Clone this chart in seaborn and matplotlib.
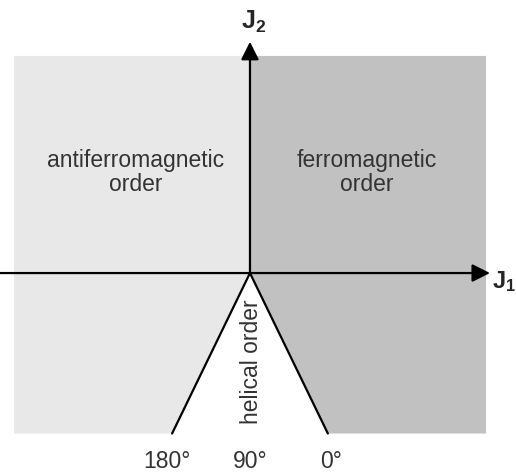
import numpy as np
import pandas as pd
import matplotlib
matplotlib.use("Agg")
import matplotlib.pyplot as plt
import seaborn as sns

# phase diagram extent (J1, J2 units)
j1_range = [-1.0, 1.0]
j2_range = [-0.68, 0.92]
helical_foot = [-0.33, 0.33]   # J1 where helical boundaries meet bottom edge
region_names = ["antiferromagnetic\norder", "ferromagnetic\norder"]
region_colors = ["#e8e8e8", "#c1c1c1"]
angle_labels = ["180°", "90°", "0°"]
angle_j1 = [-0.35, 0.0, 0.345]

sns.set_style("white")
plt.rcParams["font.family"] = ["Liberation Sans", "DejaVu Sans"]
plt.rcParams["mathtext.fontset"] = "custom"
plt.rcParams["mathtext.rm"] = "Liberation Sans"
plt.rcParams["mathtext.bf"] = "Liberation Sans:bold"

fig = plt.figure(figsize=(5.16, 4.76), dpi=100)
ax = fig.add_axes([0, 0, 1, 1])
ax.set_xlim(-1.059, 1.127)
ax.set_ylim(-0.860, 1.157)
ax.axis("off")

# regions
x0, x1 = j1_range
y0, y1 = j2_range
ax.fill([x0, 0, 0, helical_foot[0], x0], [y1, y1, 0, y0, y0],
        color=region_colors[0], lw=0)
ax.fill([0, x1, x1, helical_foot[1], 0], [y1, y1, y0, y0, 0],
        color=region_colors[1], lw=0)

# helical boundaries
for foot in helical_foot:
    sns.lineplot(x=[0, foot], y=[0, y0], sort=False, color="black",
                 lw=1.6, ax=ax, estimator=None)

# axes arrows
arr = dict(arrowstyle="-|>,head_length=0.6,head_width=0.3", mutation_scale=18,
           lw=1.6, color="black", shrinkA=0, shrinkB=0)
ax.annotate("", xy=(1.017, 0), xytext=(-1.07, 0), arrowprops=arr)
ax.annotate("", xy=(0, 0.98), xytext=(0, 0), arrowprops=arr)
ax.text(1.025, -0.035, r"$\mathbf{J_1}$", fontsize=17, ha="left", va="center")
ax.text(0.015, 1.065, r"$\mathbf{J_2}$", fontsize=18, ha="center", va="center")

# labels
tc = "#333333"
ax.text(-0.483, 0.425, region_names[0], fontsize=16.5, color=tc,
        ha="center", va="center", linespacing=1.05)
ax.text(0.496, 0.425, region_names[1], fontsize=16.5, color=tc,
        ha="center", va="center", linespacing=1.05)
ax.text(0.005, -0.377, "helical order", fontsize=16.5, color=tc,
        rotation=90, ha="center", va="center")
for lab, xv in zip(angle_labels, angle_j1):
    ax.text(xv, -0.80, lab, fontsize=16.5, color=tc, ha="center", va="center")

fig.savefig("out.png", dpi=100)
